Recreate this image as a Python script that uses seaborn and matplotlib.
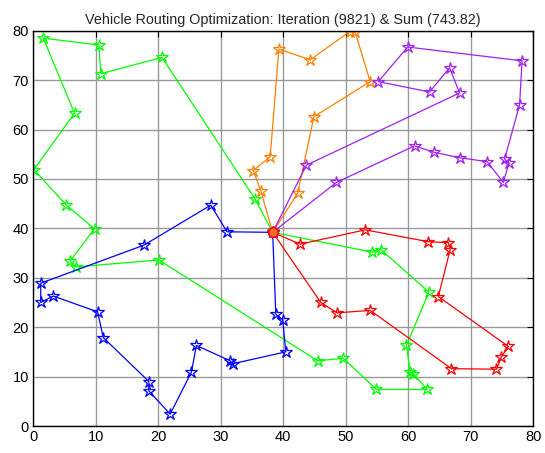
import matplotlib
matplotlib.use("Agg")
import matplotlib.pyplot as plt
import seaborn as sns
import pandas as pd

title = "Vehicle Routing Optimization: Iteration (9821) & Sum (743.82)"
depot_x, depot_y = 38.3, 39.2

# route coordinates (customers, in visiting order)
green_x = [54.2, 55.6, 63.3, 59.7, 60.3, 60.8, 63.0, 54.9, 49.6, 45.5, 20.1, 6.8, 5.9, 9.8, 5.3, 0.1, 6.6, 1.6, 10.5, 10.8, 20.6, 35.5]
green_y = [35.2, 35.7, 27.1, 16.3, 10.9, 10.6, 7.4, 7.4, 13.7, 13.2, 33.6, 32.2, 33.4, 39.9, 44.7, 51.9, 63.3, 78.5, 77.1, 71.3, 74.6, 45.9]

red_x = [42.7, 53.1, 63.2, 66.4, 66.7, 64.8, 76.0, 74.9, 74.1, 66.9, 53.9, 48.6, 46.0]
red_y = [36.8, 39.7, 37.3, 37.1, 35.7, 26.2, 16.1, 14.0, 11.5, 11.6, 23.4, 22.9, 25.0]

blue_x = [31.0, 28.4, 17.7, 1.2, 1.2, 3.2, 10.3, 11.2, 18.5, 18.5, 21.9, 25.3, 26.1, 31.5, 31.9, 40.4, 39.9, 38.8]
blue_y = [39.3, 44.7, 36.6, 28.9, 25.0, 26.3, 23.1, 17.9, 9.0, 7.1, 2.4, 10.9, 16.3, 13.2, 12.6, 15.0, 21.5, 22.6]

orange_x = [36.4, 35.2, 37.9, 39.3, 44.3, 50.6, 51.5, 53.9, 44.9, 42.3]
orange_y = [47.6, 51.7, 54.5, 76.3, 74.1, 79.8, 79.7, 69.7, 62.6, 47.1]

purple_x = [48.5, 61.0, 64.1, 68.2, 72.6, 75.2, 76.1, 75.4, 77.8, 78.2, 59.9, 55.2, 63.4, 66.6, 68.2, 43.7]
purple_y = [49.3, 56.7, 55.4, 54.3, 53.5, 49.3, 53.2, 54.0, 65.0, 73.9, 76.7, 69.7, 67.6, 72.5, 67.4, 52.8]

routes = [
    (green_x, green_y, "#00ff00"),
    (red_x, red_y, "#ff0000"),
    (blue_x, blue_y, "#0000ff"),
    (orange_x, orange_y, "#ff8000"),
    (purple_x, purple_y, "#a020f0"),
]

sns.set_theme(style="white")
plt.rcParams["font.family"] = ["Liberation Sans", "DejaVu Sans"]

fig = plt.figure(figsize=(5.45, 4.53), dpi=100)
ax = fig.add_axes([0.061, 0.0596, 0.9176, 0.8726])

for xs, ys, col in routes:
    df = pd.DataFrame({"x": [depot_x] + xs + [depot_x], "y": [depot_y] + ys + [depot_y]})
    sns.lineplot(data=df, x="x", y="y", sort=False, estimator=None, ax=ax,
                 color=col, lw=0.9, marker="*", markersize=9,
                 markerfacecolor="none", markeredgecolor=col, markeredgewidth=0.9)

sns.scatterplot(x=[depot_x], y=[depot_y], ax=ax, s=50, color="#f07020",
                edgecolor="#ff0000", linewidth=1.2, zorder=5)

ax.set_xlim(0, 80)
ax.set_ylim(0, 80)
ax.set_xticks(range(0, 81, 10))
ax.set_yticks(range(0, 81, 10))
ax.set_xlabel("")
ax.set_ylabel("")
ax.grid(True, color="#999999", lw=1.0)
ax.set_axisbelow(True)
ax.tick_params(direction="in", length=4, width=0.8, top=True, right=True,
               labelsize=10.5, colors="black", pad=3)
for s in ax.spines.values():
    s.set_color("black")
    s.set_linewidth(1.0)
ax.set_title(title, fontsize=10.4, pad=5)

fig.savefig("out.png", dpi=100)
